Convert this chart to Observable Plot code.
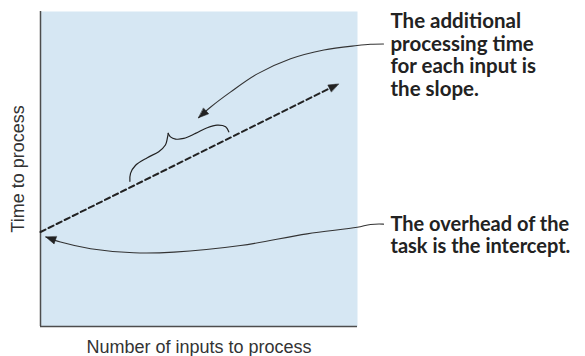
<!DOCTYPE html>
<html><head><meta charset="utf-8">
<script src="https://cdn.jsdelivr.net/npm/d3@7"></script>
<script src="https://cdn.jsdelivr.net/npm/@observablehq/plot@0.6"></script>
<style>
body{margin:0;background:#fff;}
#chart svg{display:block;}
</style></head><body><div id="chart"></div>
<script>
// ---- data ----
const xLabel = "Number of inputs to process";
const yLabel = "Time to process";
const xDomain = [0, 100];
const yDomain = [0, 100];

// dashed relationship line (intercept 30, rising)
const lineX = [0, 94];
const lineY = [30, 77];

// annotation notes
const slopeNote = "The additional\nprocessing time\nfor each input is\nthe slope.";
const interceptNote = "The overhead of the\ntask is the intercept.";
const noteX = [110.4];
const slopeNoteY = [99.8];
const interceptNoteY = [35.2];

// curved leader arrow to the slope
const slopeArrowX = [108.2, 104.1, 99.9, 89.4, 78.9, 68.4, 59.9, 53.6, 49.9];
const slopeArrowY = [89.7, 89.6, 89.2, 87.8, 85.0, 80.2, 74.4, 69.6, 66.3];

// curved leader arrow to the intercept
const interceptArrowX = [108.2, 104.1, 99.9, 84.1, 63.1, 42.1, 29.4, 15.8, 6.3, 1.7];
const interceptArrowY = [32.5, 32.4, 31.5, 29.4, 25.7, 23.6, 23.4, 24.7, 26.8, 28.4];

// curly brace above the line (two halves meeting at the cusp)
const braceLeftX = [28.2, 28.4, 30.0, 33.7, 37.3, 39.4, 40.0, 40.3];
const braceLeftY = [46.1, 48.6, 51.2, 53.6, 55.5, 57.6, 59.7, 61.3];
const braceRightX = [40.3, 41.0, 42.6, 45.2, 48.9, 52.6, 55.7, 58.4, 59.4];
const braceRightY = [61.3, 60.2, 59.5, 59.7, 61.3, 63.1, 63.9, 63.4, 61.8];

// ---- layout ----
const width = 585, height = 356;
const marginLeft = 40, marginRight = 228, marginTop = 11, marginBottom = 30;
const kx = (width - marginLeft - marginRight) / (xDomain[1] - xDomain[0]);
const ky = (height - marginTop - marginBottom) / (yDomain[1] - yDomain[0]);

const toPts = (xs, ys, z) => xs.map((x, i) => ({x, y: ys[i], z}));
const bearing = (xs, ys) => {
  const n = xs.length;
  const dx = (xs[n - 1] - xs[n - 2]) * kx;
  const dy = (ys[n - 1] - ys[n - 2]) * ky;
  return Math.atan2(dx, dy) * 180 / Math.PI;
};
const heads = [
  {x: lineX[1], y: lineY[1], r: bearing(lineX, lineY)},
  {x: slopeArrowX.at(-1), y: slopeArrowY.at(-1), r: bearing(slopeArrowX, slopeArrowY)},
  {x: interceptArrowX.at(-1), y: interceptArrowY.at(-1), r: bearing(interceptArrowX, interceptArrowY)}
];
const headShape = {
  draw(ctx, l, r) {
    ctx.moveTo(0, -l);
    ctx.lineTo(-r, 0);
    ctx.lineTo(r, 0);
    ctx.closePath();
  }
};

const noteFont = "Lato, 'Open Sans', sans-serif";
const ink = "#222";

const chart = Plot.plot({
  width, height, marginLeft, marginRight, marginTop, marginBottom,
  x: {domain: xDomain, axis: null},
  y: {domain: yDomain, axis: null},
  style: {fontFamily: "'Liberation Sans', Arial, sans-serif", background: "#fff"},
  marks: [
    Plot.frame({fill: "#d6e7f3", stroke: null}),
    Plot.ruleX([xDomain[0]], {stroke: "#4d4d4d", strokeWidth: 1.5}),
    Plot.ruleY([yDomain[0]], {stroke: "#4d4d4d", strokeWidth: 1.5}),
    Plot.line(toPts(lineX, lineY), {x: "x", y: "y", stroke: ink, strokeWidth: 2, strokeDasharray: "5.5,3.5"}),
    Plot.line([...toPts(braceLeftX, braceLeftY, "l"), ...toPts(braceRightX, braceRightY, "r")],
      {x: "x", y: "y", z: "z", curve: "catmull-rom", stroke: ink, strokeWidth: 1.2}),
    Plot.line(toPts(slopeArrowX, slopeArrowY), {x: "x", y: "y", curve: "catmull-rom", stroke: "#333", strokeWidth: 1.1}),
    Plot.line(toPts(interceptArrowX, interceptArrowY), {x: "x", y: "y", curve: "catmull-rom", stroke: "#333", strokeWidth: 1.1}),
    Plot.vector(heads, {x: "x", y: "y", rotate: "r", length: 10, r: 3.8, anchor: "end", shape: headShape, fill: ink, stroke: ink, strokeWidth: 0.5}),
    Plot.text([slopeNote], {x: noteX, y: slopeNoteY, text: d => d, textAnchor: "start", lineAnchor: "top",
      fontSize: 20.5, fontWeight: 700, fontFamily: noteFont, lineHeight: 1.1, fill: ink}),
    Plot.text([interceptNote], {x: noteX, y: interceptNoteY, text: d => d, textAnchor: "start", lineAnchor: "top",
      fontSize: 20, fontWeight: 700, fontFamily: noteFont, lineHeight: 1.1, fill: ink}),
    Plot.text([yLabel], {frameAnchor: "left", text: d => d, rotate: -90, dx: -22, fontSize: 18, fill: "#333", textAnchor: "middle", lineAnchor: "middle"}),
    Plot.text([xLabel], {frameAnchor: "bottom", text: d => d, dy: 21, fontSize: 18, fill: "#333", textAnchor: "middle", lineAnchor: "middle"})
  ]
});
document.getElementById("chart").append(chart);
</script>
</body></html>
